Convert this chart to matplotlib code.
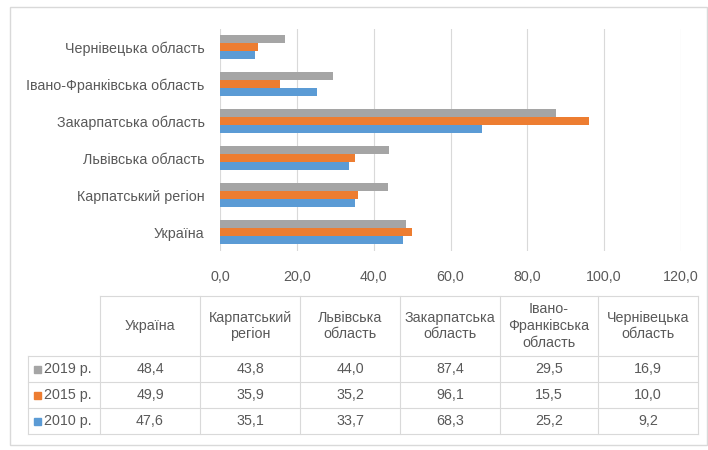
import matplotlib
matplotlib.use("Agg")
import matplotlib.pyplot as plt
from matplotlib.patches import Rectangle
from matplotlib.lines import Line2D
import numpy as np

categories = ["Україна", "Карпатський регіон", "Львівська область",
              "Закарпатська область", "Івано-Франківська область", "Чернівецька область"]
table_headers = ["Україна", "Карпатський\nрегіон", "Львівська\nобласть",
                 "Закарпатська\nобласть", "Івано-\nФранківська\nобласть", "Чернівецька\nобласть"]
series_names = ["2019 р.", "2015 р.", "2010 р."]
v2019 = [48.4, 43.8, 44.0, 87.4, 29.5, 16.9]
v2015 = [49.9, 35.9, 35.2, 96.1, 15.5, 10.0]
v2010 = [47.6, 35.1, 33.7, 68.3, 25.2, 9.2]
xticks = [0, 20, 40, 60, 80, 100, 120]

colors = {"2019 р.": "#A5A5A5", "2015 р.": "#ED7D31", "2010 р.": "#5B9BD5"}
text_c = "#595959"
line_c = "#D9D9D9"
fs = 10.3

plt.rcParams['font.family'] = ['Liberation Sans', 'DejaVu Sans']
W, H = 708, 450
fig = plt.figure(figsize=(W/100, H/100), dpi=100)

def fx(px): return px / W
def fy(py): return 1 - py / H

ax = fig.add_axes([fx(220), fy(251), fx(681) - fx(220), fy(28.5) - fy(251)])
y = np.arange(len(categories))
bh = 0.215
ax.barh(y - bh, v2010, height=bh, color=colors["2010 р."], zorder=3)
ax.barh(y, v2015, height=bh, color=colors["2015 р."], zorder=3)
ax.barh(y + bh, v2019, height=bh, color=colors["2019 р."], zorder=3)
ax.set_xlim(0, 120)
ax.set_ylim(-0.5, len(categories) - 0.5)
ax.set_xticks(xticks)
ax.set_xticklabels([f"{t:.1f}".replace(".", ",") for t in xticks], color=text_c, fontsize=fs)
ax.set_yticks(y)
ax.set_yticklabels(categories, color=text_c, fontsize=fs)
ax.tick_params(axis='y', length=0, pad=11)
ax.tick_params(axis='x', length=0, pad=14)
ax.grid(axis='x', color=line_c, linewidth=0.8, zorder=0)
for s in ax.spines.values():
    s.set_visible(False)

# Outer border
fig.add_artist(Rectangle((fx(10), fy(445)), fx(707) - fx(10), fy(7) - fy(445),
                         transform=fig.transFigure, fill=False, edgecolor="#D9D9D9", linewidth=1))

# Data table
col_x = [100, 200, 300, 400, 500, 598, 698]
hdr_top, hdr_bot = 296, 356
row_y = [356, 382, 408, 434]
row_left = 28

def hline(x0, x1, yy):
    fig.add_artist(Line2D([fx(x0), fx(x1)], [fy(yy), fy(yy)], transform=fig.transFigure,
                          color=line_c, linewidth=0.8))

def vline(xx, y0, y1):
    fig.add_artist(Line2D([fx(xx), fx(xx)], [fy(y0), fy(y1)], transform=fig.transFigure,
                          color=line_c, linewidth=0.8))

hline(col_x[0], col_x[-1], hdr_top)
for yy in row_y:
    hline(row_left, col_x[-1], yy)
for xx in col_x:
    vline(xx, hdr_top, row_y[-1])
vline(row_left, row_y[0], row_y[-1])

for i, h in enumerate(table_headers):
    cx = (col_x[i] + col_x[i + 1]) / 2
    fig.text(fx(cx), fy((hdr_top + hdr_bot) / 2), h, ha='center', va='center',
             color=text_c, fontsize=fs, linespacing=1.25)

rows = [v2019, v2015, v2010]
for r, (name, vals) in enumerate(zip(series_names, rows)):
    cy = (row_y[r] + row_y[r + 1]) / 2
    fig.add_artist(Rectangle((fx(34), fy(cy + 3.5)), fx(7), fy(0) - fy(7),
                             transform=fig.transFigure, color=colors[name]))
    fig.text(fx(44), fy(cy), name, ha='left', va='center', color=text_c, fontsize=fs)
    for i, v in enumerate(vals):
        cx = (col_x[i] + col_x[i + 1]) / 2
        fig.text(fx(cx), fy(cy), f"{v:.1f}".replace(".", ","), ha='center', va='center',
                 color=text_c, fontsize=fs)

fig.savefig("out.png", dpi=100, facecolor="white")
